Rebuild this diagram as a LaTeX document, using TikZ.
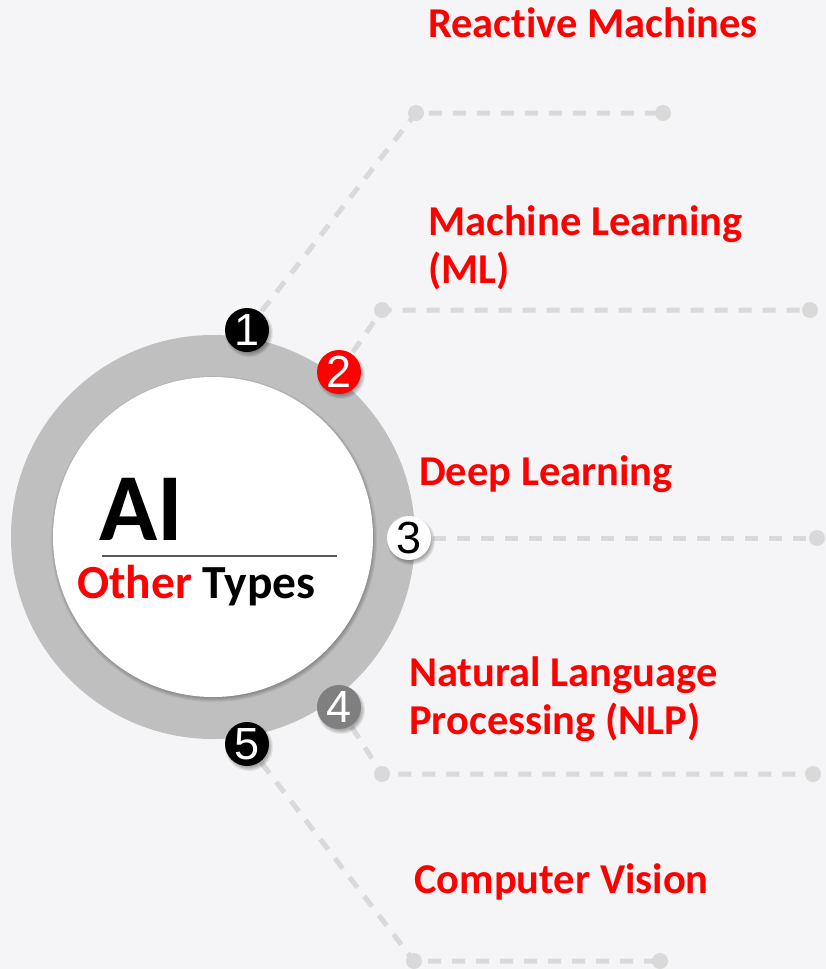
\documentclass[tikz,border=0pt]{standalone}
\usepackage{fontspec}
\setmainfont{Carlito}[Ligatures={NoCommon}, Contextuals={NoAlternate}]
\newfontfamily\digitfont{Liberation Sans}
\definecolor{bgc}{HTML}{F5F5F7}
\definecolor{ringc}{HTML}{BFBFBF}
\definecolor{dashc}{HTML}{D9D9D9}
\definecolor{lblred}{HTML}{FF0000}
\definecolor{badgegray}{HTML}{7F7F7F}
\definecolor{rulec}{HTML}{595959}
\pgfdeclarelayer{bg}
\pgfdeclarelayer{lines}
\pgfsetlayers{bg,lines,main}
\begin{document}
\begin{tikzpicture}[x=1pt,y=-1pt,
  badge/.style={circle, minimum size=44pt, inner sep=0pt, text=white,
    font=\digitfont\fontsize{45}{45}\selectfont},
  dotnode/.style={circle, fill=dashc, minimum size=16pt, inner sep=0pt},
  connector/.style={draw=dashc, line width=5pt, dash pattern=on 13pt off 11pt},
  softshade/.style={fill=black, fill opacity=0.06, draw=none},
  lbl/.style={anchor=base west, inner sep=0pt, text=lblred, align=left,
    font=\bfseries\fontsize{42.5}{48}\selectfont}
]
\useasboundingbox (0,0) rectangle (826,969);
\begin{pgfonlayer}{bg}
  \fill[bgc] (0,0) rectangle (826,969);
  \node[circle, fill=ringc, minimum size=404pt, inner sep=0pt] (ring) at (213,537) {};
  \foreach \k in {0,...,5}
    \fill[softshade] ([shift={(1,2)}]ring.center) circle[radius={(158+\k)*1pt}];
  \node[circle, fill=white, minimum size=320pt, inner sep=0pt] (core) at (213,537) {};
\end{pgfonlayer}

% centre text
\node[anchor=base west, inner sep=0pt, font=\bfseries\fontsize{96}{96}\selectfont] (ai) at (99,540) {AI};
\coordinate (rl) at (102,556);
\coordinate (rr) at (337,556);
\draw[rulec, line width=1.6pt] (rl) -- (rr);
\node[anchor=base west, inner sep=0pt, font=\bfseries\fontsize{47.5}{47.5}\selectfont] (types) at (77,598) {\textcolor{lblred}{Other} Types};

% badges
\node[badge, fill=black] (b1) at (247,330) {1};
\node[badge, fill=lblred] (b2) at (339,372) {2};
\node[badge, fill=white, text=black] (b3) at (409,538) {3};
\node[badge, fill=badgegray] (b4) at (339,707) {4};
\node[badge, fill=black] (b5) at (247,744) {5};

% corner and end dots
\node[dotnode] (c1) at (416,113) {};
\node[dotnode] (e1) at (663,113) {};
\node[dotnode] (c2) at (382,310) {};
\node[dotnode] (e2) at (810,310) {};
\node[dotnode] (e3) at (817,538) {};
\node[dotnode] (c4) at (382,774) {};
\node[dotnode] (e4) at (813,774) {};
\node[dotnode] (c5) at (414,961) {};
\node[dotnode] (e5) at (660,961) {};

\begin{pgfonlayer}{lines}
  \draw[connector] (b1.center) -- (c1.center) -- (e1.center);
  \draw[connector] (b2.center) -- (c2.center) -- (e2.center);
  \draw[connector] (b3.center) -- (e3.center);
  \draw[connector] (b4.center) -- (c4.center) -- (e4.center);
  \draw[connector] (b5.center) -- (c5.center) -- (e5.center);
  \foreach \b in {b1,b2,b3,b4,b5}
    \foreach \k in {0,...,5}
      \fill[softshade, fill opacity=0.07] ([shift={(2,3)}]\b.center) circle[radius={(19+\k)*1pt}];
\end{pgfonlayer}

% labels
\node[lbl] (t1) at (428,37) {Reactive Machines};
\node[lbl] (t2) at (428,283) {Machine Learning\\(ML)};
\node[lbl] (t3) at (419,485) {Deep Learning};
\node[lbl] (t4) at (409,734) {Natural Language\\Processing (NLP)};
\node[lbl] (t5) at (414,893) {Computer Vision};
\end{tikzpicture}
\end{document}
